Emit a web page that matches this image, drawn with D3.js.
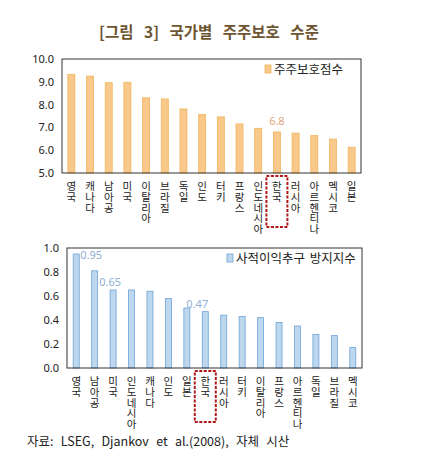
<!DOCTYPE html>
<html>
<head>
<meta charset="utf-8">
<script src="https://cdn.jsdelivr.net/npm/d3@7"></script>
<style>
  body { margin: 0; background: #fff; }
  svg text { font-family: "Noto Sans CJK KR", "Noto Sans", sans-serif; }
</style>
</head>
<body>
<svg id="chart" width="441" height="471"></svg>
<script>
// top chart: 주주보호점수
var topCountries = ["영국","캐나다","남아공","미국","이탈리아","브라질","독일","인도","터키","프랑스","인도네시아","한국","러시아","아르헨티나","멕시코","일본"];
var topValues = [9.33, 9.25, 8.96, 8.98, 8.30, 8.25, 7.81, 7.56, 7.46, 7.15, 6.96, 6.80, 6.75, 6.64, 6.49, 6.13];
var topTicks = [5.0, 6.0, 7.0, 8.0, 9.0, 10.0];

// bottom chart: 사적이익추구 방지지수
var botCountries = ["영국","남아공","미국","인도네시아","캐나다","인도","일본","한국","러시아","터키","이탈리아","프랑스","아르헨티나","독일","브라질","멕시코"];
var botValues = [0.95, 0.81, 0.65, 0.65, 0.64, 0.58, 0.50, 0.47, 0.44, 0.43, 0.42, 0.38, 0.35, 0.28, 0.27, 0.17];
var botTicks = [0.0, 0.2, 0.4, 0.6, 0.8, 1.0];

var svg = d3.select("#chart");

svg.append("text")
    .attr("x", 209).attr("y", 38)
    .attr("text-anchor", "middle")
    .attr("font-size", 15.5).attr("font-weight", "bold")
    .attr("fill", "#6e5532")
    .attr("word-spacing", 7)
    .text("[그림 3] 국가별 주주보호 수준");

function drawChart(cfg) {
    var x = d3.scaleBand().domain(cfg.cats).range([cfg.left, cfg.right]);
    var y = d3.scaleLinear().domain(cfg.domain).range([cfg.bottom, cfg.top]);
    var g = svg.append("g");

    // y axis labels
    var yAxis = d3.axisLeft(y).tickValues(cfg.ticks).tickSize(0).tickPadding(8)
        .tickFormat(d3.format(".1f"));
    var ax = g.append("g").attr("transform", "translate(" + cfg.left + ",0)").call(yAxis);
    ax.select(".domain").remove();
    ax.selectAll("text").attr("font-size", 11).attr("fill", "#222")
        .style("font-family", "'Noto Sans', sans-serif");

    // bars
    g.selectAll(".bar").data(cfg.vals).enter().append("rect")
        .attr("x", function(d, i) { return x(cfg.cats[i]) + (x.bandwidth() - cfg.barW) / 2; })
        .attr("y", function(d) { return y(d); })
        .attr("width", cfg.barW)
        .attr("height", function(d) { return y(cfg.domain[0]) - y(d); })
        .attr("fill", cfg.fill).attr("stroke", cfg.edge).attr("stroke-width", 0.8);

    // frame
    g.append("rect")
        .attr("x", cfg.left).attr("y", cfg.top)
        .attr("width", cfg.right - cfg.left).attr("height", cfg.bottom - cfg.top)
        .attr("fill", "none").attr("stroke", "#333").attr("stroke-width", 1);

    // vertical category labels, one syllable per line
    var lab = g.selectAll(".cat").data(cfg.cats).enter().append("text")
        .attr("font-size", 10.5).attr("fill", "#222").attr("text-anchor", "middle")
        .attr("transform", function(d) {
            return "translate(" + (x(d) + x.bandwidth() / 2) + "," + (cfg.bottom + cfg.labTop) + ")";
        });
    lab.selectAll("tspan").data(function(d) { return d.split(""); }).enter().append("tspan")
        .attr("x", 0).attr("y", function(d, i) { return i * 10.8; })
        .text(function(d) { return d; });

    // data labels
    cfg.labels.forEach(function(l) {
        var i = cfg.cats.indexOf(l.name);
        g.append("text")
            .attr("x", x(l.name) + x.bandwidth() / 2 + (l.dx || 0))
            .attr("y", y(cfg.vals[i]) + (l.dy || -6))
            .attr("text-anchor", l.anchor || "middle")
            .attr("font-size", 11).attr("fill", cfg.labColor)
            .style("font-family", "'Noto Sans', sans-serif")
            .text(d3.format(cfg.labFmt)(cfg.vals[i]));
    });

    // red dashed box around 한국
    var k = x("한국");
    g.append("rect")
        .attr("x", k + x.bandwidth() / 2 - 10.5).attr("y", cfg.bottom + 3)
        .attr("width", 21).attr("height", cfg.boxH)
        .attr("fill", "none").attr("stroke", "#b01818").attr("stroke-width", 2)
        .attr("stroke-dasharray", "3,1.5");

    // legend
    g.append("rect")
        .attr("x", cfg.legX).attr("y", cfg.legY - 4).attr("width", 6).attr("height", 8)
        .attr("fill", cfg.fill).attr("stroke", cfg.edge).attr("stroke-width", 0.8);
    g.append("text")
        .attr("x", cfg.legX + 9).attr("y", cfg.legY + 4.5)
        .attr("font-size", 12.5).attr("fill", "#222")
        .attr("word-spacing", 2)
        .text(cfg.legend);
}

drawChart({
    cats: topCountries, vals: topValues, ticks: topTicks, domain: [5, 10],
    left: 62, right: 361, top: 59, bottom: 173, barW: 7,
    fill: "#f9c98b", edge: "#f0b45a", labTop: 17, boxH: 51,
    labels: [{name: "한국", dy: -7}], labFmt: ".1f", labColor: "#e2a77e",
    legX: 265, legY: 69, legend: "주주보호점수"
});

drawChart({
    cats: botCountries, vals: botValues, ticks: botTicks, domain: [0, 1],
    left: 67, right: 362, top: 248, bottom: 368, barW: 6,
    fill: "#bdd7ee", edge: "#6fa3d6", labTop: 17, boxH: 51,
    labels: [{name: "영국", dx: 4, dy: 5, anchor: "start"}, {name: "미국", dx: -3, dy: -4}, {name: "한국", dx: -8, dy: -4}],
    labFmt: ".2f", labColor: "#8fb0d4",
    legX: 227, legY: 258, legend: "사적이익추구 방지지수"
});

svg.append("text")
    .attr("x", 27).attr("y", 446)
    .attr("font-size", 12.5).attr("fill", "#222")
    .attr("word-spacing", 4.5)
    .text("자료: LSEG, Djankov et al.(2008), 자체 시산");
</script>
</body>
</html>
